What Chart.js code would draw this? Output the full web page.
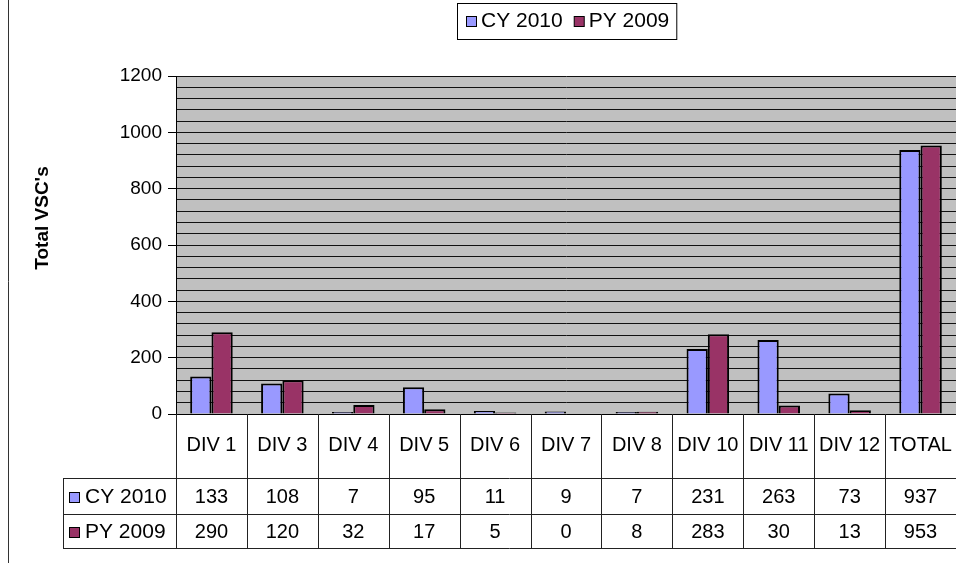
<!DOCTYPE html>
<html><head><meta charset="utf-8">
<script src="https://cdn.jsdelivr.net/npm/chart.js@4/dist/chart.umd.min.js"></script>
<style>html,body{margin:0;padding:0;background:#fff}canvas{display:block}</style>
</head><body>
<canvas id="c" width="956" height="563"></canvas>
<script>
// ---- data ----
const categories = ['DIV 1','DIV 3','DIV 4','DIV 5','DIV 6','DIV 7','DIV 8','DIV 10','DIV 11','DIV 12','TOTAL'];
const seriesNames = ['CY 2010','PY 2009'];
const cy2010 = [133,108,7,95,11,9,7,231,263,73,937];
const py2009 = [290,120,32,17,5,0,8,283,30,13,953];
const yAxisTitle = "Total VSC's";
const yMin = 0, yMax = 1200, yGridStep = 40, yLabelStep = 200;

const COLORS = ['#9999FF','#993366'];
const FONT = '"Liberation Sans", Arial, sans-serif';

const deco = {
  id: 'deco',
  beforeDraw(chart) {
    const {ctx, chartArea: a} = chart;
    ctx.save();
    ctx.fillStyle = '#fff';
    ctx.fillRect(0, 0, chart.width, chart.height);
    ctx.fillStyle = '#C0C0C0';
    ctx.fillRect(a.left, a.top, a.right - a.left, a.bottom - a.top);
    ctx.restore();
  },
  afterDraw(chart) {
    const {ctx, chartArea: a} = chart;
    const n = categories.length;
    const w = (a.right - a.left) / n;
    const rowTop = a.bottom, row1 = 478, row2 = 514, rowEnd = 548, labelLeft = 63;
    ctx.save();
    // table lines
    ctx.strokeStyle = '#222';
    ctx.lineWidth = 1;
    ctx.beginPath();
    for (let i = 0; i < n; i++) {
      const x = Math.round(a.left + i * w) + 0.5;
      ctx.moveTo(x, rowTop); ctx.lineTo(x, rowEnd);
    }
    ctx.moveTo(labelLeft + 0.5, row1); ctx.lineTo(labelLeft + 0.5, rowEnd);
    [row1, row2, rowEnd].forEach(y => { ctx.moveTo(labelLeft, y + 0.5); ctx.lineTo(a.right, y + 0.5); });
    ctx.stroke();
    // texts
    ctx.fillStyle = '#000';
    ctx.textAlign = 'center';
    ctx.textBaseline = 'middle';
    ctx.font = '20px ' + FONT;
    const series = [cy2010, py2009];
    for (let i = 0; i < n; i++) {
      const cx = a.left + (i + 0.5) * w;
      ctx.fillText(categories[i], cx, 445);
      ctx.fillText(String(series[0][i]), cx, (row1 + row2) / 2 + 1);
      ctx.fillText(String(series[1][i]), cx, (row2 + rowEnd) / 2 + 1);
    }
    // series labels in table
    ctx.textAlign = 'left';
    ctx.font = '21px ' + FONT;
    [[row1, row2], [row2, rowEnd]].forEach((r, k) => {
      const cy = (r[0] + r[1]) / 2 + 1;
      ctx.fillStyle = COLORS[k];
      ctx.fillRect(69.5, Math.round(cy - 5) + 0.5, 10, 10);
      ctx.strokeStyle = '#000';
      ctx.strokeRect(69.5, Math.round(cy - 5) + 0.5, 10, 10);
      ctx.fillStyle = '#000';
      ctx.fillText(seriesNames[k], 85, cy);
    });
    // legend
    ctx.font = '21px ' + FONT;
    let x = 466;
    const ly = 21;
    const items = [];
    seriesNames.forEach((name, k) => {
      items.push({x, k, name});
      x += 15 + ctx.measureText(name).width + 11;
    });
    const boxL = 457, boxR = x - 11 + 7;
    ctx.fillStyle = '#fff';
    ctx.fillRect(boxL, 3, boxR - boxL, 36);
    ctx.strokeStyle = '#000';
    ctx.strokeRect(boxL + 0.5, 3.5, boxR - boxL, 36);
    items.forEach(it => {
      ctx.fillStyle = COLORS[it.k];
      ctx.fillRect(it.x + 0.5, ly - 5 + 0.5, 10, 10);
      ctx.strokeStyle = '#000';
      ctx.strokeRect(it.x + 0.5, ly - 5 + 0.5, 10, 10);
      ctx.fillStyle = '#000';
      ctx.fillText(it.name, it.x + 15, ly);
    });
    // y title
    ctx.save();
    ctx.translate(43, 218);
    ctx.rotate(-Math.PI / 2);
    ctx.textAlign = 'center';
    ctx.font = 'bold 19px ' + FONT;
    ctx.fillText(yAxisTitle, 0, 0);
    ctx.restore();
    // outer left border
    ctx.strokeStyle = '#333';
    ctx.beginPath();
    ctx.moveTo(8.5, 0); ctx.lineTo(8.5, chart.height);
    ctx.stroke();
    ctx.restore();
  }
};

new Chart(document.getElementById('c'), {
  type: 'bar',
  data: {
    labels: categories,
    datasets: [
      {label: seriesNames[0], data: cy2010, backgroundColor: COLORS[0], borderColor: '#000', borderWidth: 2, borderSkipped: 'bottom'},
      {label: seriesNames[1], data: py2009, backgroundColor: COLORS[1], borderColor: '#000', borderWidth: 2, borderSkipped: 'bottom'}
    ]
  },
  options: {
    responsive: false,
    animation: false,
    events: [],
    layout: {padding: {top: 76, left: 0, right: 0, bottom: 0}},
    datasets: {bar: {categoryPercentage: 0.6, barPercentage: 1.0}},
    plugins: {legend: {display: false}, tooltip: {enabled: false}, title: {display: false}},
    scales: {
      x: {
        display: true,
        grid: {display: false},
        ticks: {display: false},
        border: {display: true, color: '#000', width: 1},
        afterFit(s) { s.height = 149; }
      },
      y: {
        min: yMin, max: yMax,
        ticks: {
          stepSize: yGridStep, autoSkip: false, padding: 6,
          color: '#000',
          font: {family: FONT, size: 19},
          callback: v => (v % yLabelStep === 0 ? String(v) : '')
        },
        grid: {
          color: '#111', lineWidth: 1, drawTicks: true, tickLength: 8,
          tickColor: c => (c.tick && c.tick.value % yLabelStep === 0 ? '#000' : 'rgba(0,0,0,0)')
        },
        border: {display: true, color: '#000', width: 1},
        afterFit(s) { s.width = 176; }
      }
    }
  },
  plugins: [deco]
});
</script>
</body></html>
